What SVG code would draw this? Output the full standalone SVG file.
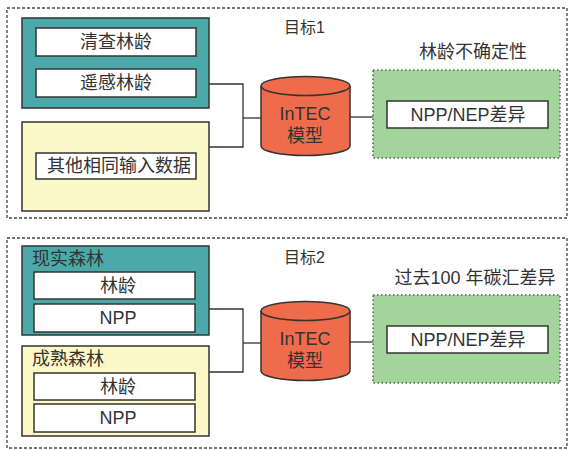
<svg xmlns="http://www.w3.org/2000/svg" width="573" height="450" viewBox="0 0 573 450">
<style>
.panel{fill:#fff;stroke:#444;stroke-width:1.3;stroke-dasharray:3 2}
.teal{fill:#4baaa9;stroke:#333;stroke-width:1.5}
.yellow{fill:#fcf8c7;stroke:#333;stroke-width:1.5}
.wbox{fill:#fff;stroke:#333;stroke-width:1.5}
.green{fill:#a2d49c;stroke:#4f6a4a;stroke-width:1.5;stroke-dasharray:1.5 2.5}
.cyl{fill:#ee6b4b;stroke:#333;stroke-width:1.5}
.conn{fill:none;stroke:#333;stroke-width:1.3}
text{font-family:"Liberation Sans","Noto Sans CJK SC",sans-serif;fill:#333;font-size:18px}
.c{text-anchor:middle}
.t{font-size:16px}
</style>
<g id="panel1">
<rect class="panel" x="7" y="8" width="560" height="210"/>
</g>
<g id="panel2">
<rect class="panel" x="7" y="238" width="560" height="210"/>
</g>
<g id="connectors">
<polyline class="conn" points="209,84 243,84 243,147 209,147"/>
<line class="conn" x1="243" y1="118" x2="261" y2="118"/>
<line class="conn" x1="350" y1="117" x2="373" y2="117"/>
<polyline class="conn" points="209,309 243,309 243,372 209,372"/>
<line class="conn" x1="243" y1="343" x2="261" y2="343"/>
<line class="conn" x1="350" y1="342" x2="373" y2="342"/>
</g>
<g id="goal1">
<text class="t" x="284" y="33">目标1</text>
</g>
<g id="teal1">
<rect class="teal" x="22" y="18" width="187" height="90"/>
<rect class="wbox" x="36" y="28" width="160" height="28"/>
<text class="c" x="116" y="48">清查林龄</text>
<rect class="wbox" x="36" y="69" width="160" height="28"/>
<text class="c" x="116" y="89">遥感林龄</text>
</g>
<g id="yellow1">
<rect class="yellow" x="22" y="122" width="187" height="89"/>
<rect class="wbox" x="36" y="153" width="160" height="26"/>
<text class="c" x="119" y="172">其他相同输入数据</text>
</g>
<g id="model1">
<path class="cyl" d="M261,86 L261,146 A44.5,9.5 0 0 0 350,146 L350,86"/>
<ellipse class="cyl" cx="305.5" cy="86" rx="44.5" ry="9.5"/>
<text class="c" x="305" y="120">InTEC</text>
<text class="c" x="305" y="142">模型</text>
</g>
<g id="result1">
<text class="c" x="473" y="58">林龄不确定性</text>
<rect class="green" x="373" y="70" width="187" height="88"/>
<rect class="wbox" x="387" y="101" width="161" height="27"/>
<text class="c" x="468" y="121">NPP/NEP差异</text>
</g>
<g id="goal2">
<text class="t" x="284" y="263">目标2</text>
</g>
<g id="teal2">
<rect class="teal" x="22" y="246" width="187" height="89"/>
<text x="32" y="265">现实森林</text>
<rect class="wbox" x="34" y="272" width="161" height="27"/>
<text class="c" x="118" y="292">林龄</text>
<rect class="wbox" x="34" y="304" width="161" height="28"/>
<text class="c" x="118" y="324">NPP</text>
</g>
<g id="yellow2">
<rect class="yellow" x="22" y="346" width="187" height="90"/>
<text x="32" y="365">成熟森林</text>
<rect class="wbox" x="34" y="373" width="161" height="27"/>
<text class="c" x="118" y="393">林龄</text>
<rect class="wbox" x="34" y="404" width="161" height="28"/>
<text class="c" x="118" y="424">NPP</text>
</g>
<g id="model2">
<path class="cyl" d="M261,311 L261,371 A44.5,9.5 0 0 0 350,371 L350,311"/>
<ellipse class="cyl" cx="305.5" cy="311" rx="44.5" ry="9.5"/>
<text class="c" x="305" y="345">InTEC</text>
<text class="c" x="305" y="367">模型</text>
</g>
<g id="result2">
<text class="c" x="475" y="284">过去100 年碳汇差异</text>
<rect class="green" x="373" y="295" width="187" height="88"/>
<rect class="wbox" x="387" y="326" width="161" height="27"/>
<text class="c" x="468" y="346">NPP/NEP差异</text>
</g>
</svg>
